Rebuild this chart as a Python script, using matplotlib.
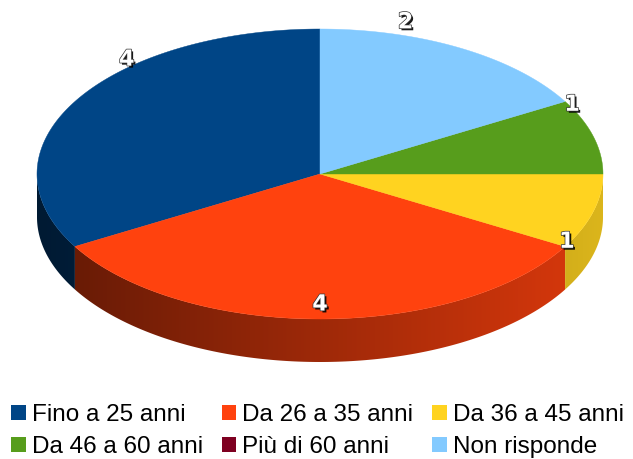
import numpy as np
import matplotlib
matplotlib.use('Agg')
import matplotlib.pyplot as plt
from matplotlib.patches import Patch, Polygon
import matplotlib.patheffects as pe
from matplotlib.colors import to_rgb

categories = ["Fino a 25 anni", "Da 26 a 35 anni", "Da 36 a 45 anni",
              "Da 46 a 60 anni", "Più di 60 anni", "Non risponde"]
values = [4, 4, 1, 1, 0, 2]
colors = ["#004586", "#ff420e", "#ffd320", "#579d1c", "#7e0021", "#83caff"]

fig = plt.figure(figsize=(6.33, 4.59), dpi=100)
ax = fig.add_axes([0, 0, 1, 1])
ax.set_xlim(0, 633)
ax.set_ylim(459, 0)
ax.axis('off')

cx, cy, rx, ry, depth = 320, 174, 283, 145, 43
start = 90.0


def pt(theta_deg, r=1.0, dy=0.0):
    t = np.radians(theta_deg)
    return cx + r * rx * np.cos(t), cy - r * ry * np.sin(t) + dy


total = float(sum(values))
angles = [start]
for v in values:
    angles.append(angles[-1] + 360.0 * v / total)

# side walls (front half only), shaded by horizontal position
xs = np.linspace(cx - rx, cx + rx, 600)
shade = 0.62 + 0.24 * (xs - cx) / rx
for i, v in enumerate(values):
    if v <= 0:
        continue
    a0, a1 = angles[i], angles[i + 1]
    base = np.array(to_rgb(colors[i]))
    for k in (-1, 0, 1):
        lo = max(a0, 180 + 360 * k)
        hi = min(a1, 360 + 360 * k)
        if hi <= lo:
            continue
        ts = np.linspace(lo, hi, 200)
        top = [pt(t) for t in ts]
        bot = [pt(t, dy=depth) for t in ts[::-1]]
        poly = Polygon(top + bot, closed=True, facecolor='none',
                       edgecolor='none')
        ax.add_patch(poly)
        img = np.clip(base[None, None, :] * shade[None, :, None], 0, 1)
        im = ax.imshow(img, extent=(cx - rx, cx + rx, cy + ry + depth + 2, cy - 2),
                       aspect='auto', interpolation='bilinear', zorder=1)
        im.set_clip_path(poly)

ax.set_xlim(0, 633)
ax.set_ylim(459, 0)

# tops
for i, v in enumerate(values):
    if v <= 0:
        continue
    a0, a1 = angles[i], angles[i + 1]
    ts = np.linspace(a0, a1, max(int((a1 - a0) * 2), 2))
    pts = [(cx, cy)] + [pt(t) for t in ts]
    ax.add_patch(Polygon(pts, closed=True, facecolor=colors[i],
                         edgecolor=colors[i], linewidth=0.3, zorder=2))

# labels
for i, v in enumerate(values):
    if v <= 0:
        continue
    mid = np.radians((angles[i] + angles[i + 1]) / 2)
    psi = np.degrees(np.arctan2(2 * np.sin(mid), np.cos(mid)))
    s = np.sin(np.radians(psi))
    r = 1.0 + 0.1 * s ** 3
    x, y = pt(psi, r)
    ax.text(x, y, str(v), ha='center', va='center', fontsize=16,
            fontweight='bold', family='DejaVu Sans', color='white', zorder=5,
            path_effects=[pe.SimplePatchShadow(offset=(1.4, -1.4),
                                               shadow_rgbFace='black', alpha=0.9),
                          pe.Stroke(linewidth=1.0, foreground='#333333'),
                          pe.Normal()])

handles = [Patch(facecolor=c, edgecolor='none', label=l)
           for c, l in zip(colors, categories)]
order = [0, 3, 1, 4, 2, 5]
fig.legend([handles[j] for j in order], [categories[j] for j in order],
           loc='upper left', bbox_to_anchor=(11 / 633, 1 - 404 / 459),
           ncol=3, frameon=False, borderpad=0, borderaxespad=0,
           handlelength=0.6, handleheight=0.6, handletextpad=0.25,
           columnspacing=0.78, labelspacing=0.42,
           prop={'family': 'Liberation Sans', 'size': 17.5})

fig.savefig('out.png', dpi=100)
